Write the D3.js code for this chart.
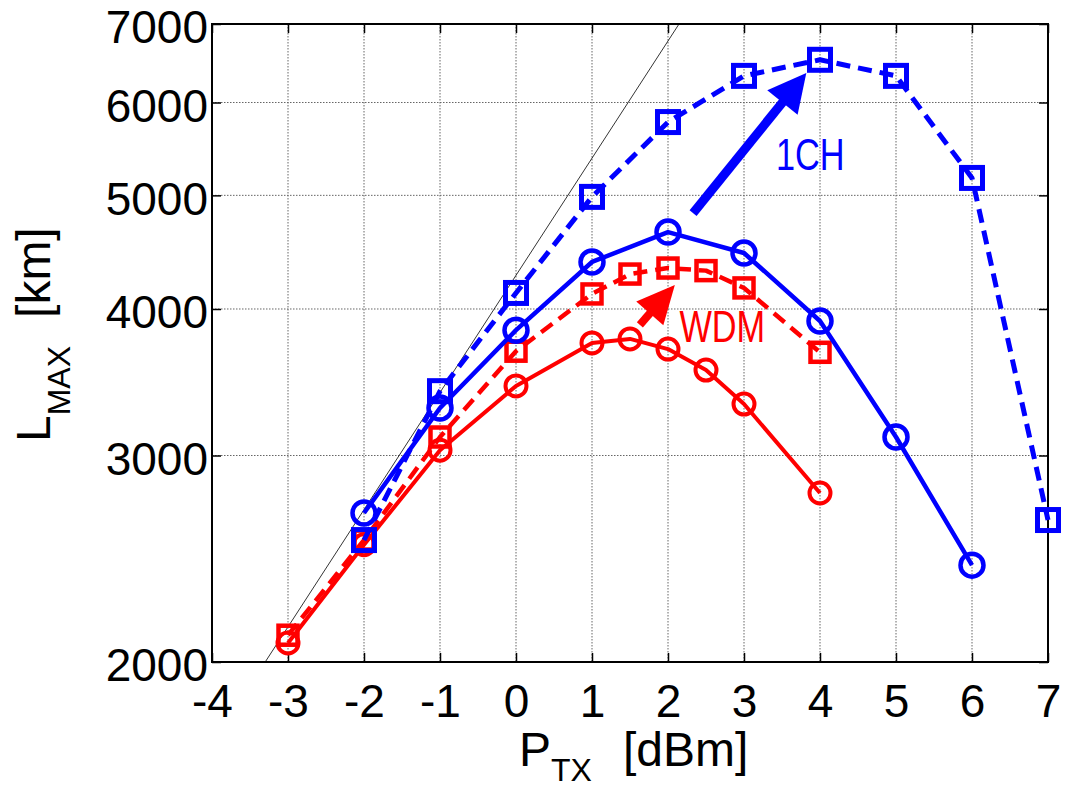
<!DOCTYPE html>
<html>
<head>
<meta charset="utf-8">
<script src="https://cdn.jsdelivr.net/npm/d3@7"></script>
<style>
  body { margin: 0; background: #fff; }
  svg { display: block; }
  text { font-family: "Liberation Sans", Arial, sans-serif; white-space: pre; }
</style>
</head>
<body>
<svg id="chart" width="1081" height="789"></svg>
<script>
// launch power (dBm) and reach (km)
const pBlue = [-2, -1, 0, 1, 2, 3, 4, 5, 6, 7];
const lBlueDash = [2541, 3404, 4128, 4985, 5774, 6322, 6525, 6322, 5174, 2643];
const pBlueSolid = [-2, -1, 0, 1, 2, 3, 4, 5, 6];
const lBlueSolid = [2680, 3293, 3837, 4387, 4652, 4465, 3907, 3111, 2419];
const pRed = [-3, -2, -1, 0, 1, 1.5, 2, 2.5, 3, 4];
const lRedDash = [2108, 2541, 3111, 3682, 4120, 4284, 4335, 4313, 4169, 3674];
const lRedSolid = [2076, 2518, 3031, 3439, 3742, 3772, 3697, 3548, 3319, 2787];
// thin black reference line (end points)
const refP = [-3.3, 2.145];
const refL = [2000, 7000];

const xTicks = [-4, -3, -2, -1, 0, 1, 2, 3, 4, 5, 6, 7];
const yTicks = [2000, 3000, 4000, 5000, 6000, 7000];

const svg = d3.select('#chart');
const mLeft = 212, mRight = 1048, mTop = 24, mBottom = 662;

const x = d3.scaleLinear().domain([-4, 7]).range([mLeft, mRight]);
const y = d3.scaleLog().domain([2000, 7000]).range([mBottom, mTop]);

// grid
const grid = svg.append('g')
  .attr('stroke', '#666').attr('stroke-width', 1).attr('stroke-dasharray', '1.5,1.5');
grid.selectAll('.gx').data(xTicks.slice(1, -1)).join('line')
  .attr('x1', d => x(d)).attr('x2', d => x(d)).attr('y1', mTop).attr('y2', mBottom);
grid.selectAll('.gy').data(yTicks.slice(1, -1)).join('line')
  .attr('y1', d => y(d)).attr('y2', d => y(d)).attr('x1', mLeft).attr('x2', mRight);

// axes: ticks pointing inward on all four sides
const tickLen = 9;
const plain = d => String(d); // keep the ascii hyphen like the original
svg.append('g').attr('transform', `translate(0,${mBottom})`)
  .call(d3.axisBottom(x).tickValues(xTicks).tickSize(-tickLen).tickPadding(22).tickFormat(plain))
  .call(g => g.select('.domain').remove());
svg.append('g').attr('transform', `translate(0,${mTop})`)
  .call(d3.axisTop(x).tickValues(xTicks).tickSize(-tickLen).tickFormat(''))
  .call(g => g.select('.domain').remove());
svg.append('g').attr('class', 'yaxis').attr('transform', `translate(${mLeft},0)`)
  .call(d3.axisLeft(y).tickValues(yTicks).tickSize(-tickLen).tickPadding(4).tickFormat(plain))
  .call(g => g.select('.domain').remove());
svg.append('g').attr('transform', `translate(${mRight},0)`)
  .call(d3.axisRight(y).tickValues(yTicks).tickSize(-tickLen).tickFormat(''))
  .call(g => g.select('.domain').remove());

svg.selectAll('.tick line').attr('stroke', '#000').attr('stroke-width', 1.5);
svg.selectAll('.tick text')
  .attr('font-family', '"Liberation Sans", Arial, sans-serif')
  .attr('font-size', 46).attr('fill', '#000');
svg.selectAll('.yaxis .tick text').attr('dy', '0.41em');

// box
svg.append('rect').attr('x', mLeft).attr('y', mTop)
  .attr('width', mRight - mLeft).attr('height', mBottom - mTop)
  .attr('fill', 'none').attr('stroke', '#000').attr('stroke-width', 2);

const plot = svg.append('g');
plot.append('clipPath').attr('id', 'clip').append('rect')
  .attr('x', mLeft).attr('y', mTop).attr('width', mRight - mLeft).attr('height', mBottom - mTop);

// reference line
plot.append('line').attr('clip-path', 'url(#clip)')
  .attr('x1', x(refP[0])).attr('y1', y(refL[0]))
  .attr('x2', x(refP[1])).attr('y2', y(refL[1]))
  .attr('stroke', '#000').attr('stroke-width', 0.8);

const line = d3.line().x(d => x(d[0])).y(d => y(d[1]));

function drawSeries(ps, ls, color, dashed, marker, size, width) {
  const pts = ps.map((p, i) => [p, ls[i]]);
  plot.append('path').datum(pts)
    .attr('d', line)
    .attr('fill', 'none').attr('stroke', color).attr('stroke-width', width)
    .attr('stroke-linejoin', 'round')
    .attr('stroke-dasharray', dashed ? '14,8' : null);
  if (marker === 'circle') {
    plot.selectAll(null).data(pts).join('circle')
      .attr('cx', d => x(d[0])).attr('cy', d => y(d[1])).attr('r', size)
      .attr('fill', 'none').attr('stroke', color).attr('stroke-width', width);
  } else {
    plot.selectAll(null).data(pts).join('rect')
      .attr('x', d => x(d[0]) - size / 2).attr('y', d => y(d[1]) - size / 2)
      .attr('width', size).attr('height', size)
      .attr('fill', 'none').attr('stroke', color).attr('stroke-width', width);
  }
}

drawSeries(pRed, lRedSolid, '#ff0000', false, 'circle', 10.5, 4);
drawSeries(pRed, lRedDash, '#ff0000', true, 'square', 19, 4.5);
drawSeries(pBlueSolid, lBlueSolid, '#0000ff', false, 'circle', 11.5, 4.5);
drawSeries(pBlue, lBlueDash, '#0000ff', true, 'square', 21, 5);

// arrows (tail and tip in data units)
function arrow(from, to, color, headLen, headHalf, width) {
  const x0 = x(from[0]), y0 = y(from[1]), x1 = x(to[0]), y1 = y(to[1]);
  const len = Math.hypot(x1 - x0, y1 - y0);
  const ux = (x1 - x0) / len, uy = (y1 - y0) / len;
  const bx = x1 - ux * headLen, by = y1 - uy * headLen;
  plot.append('line').attr('x1', x0).attr('y1', y0).attr('x2', bx + ux * 4).attr('y2', by + uy * 4)
    .attr('stroke', color).attr('stroke-width', width);
  plot.append('path')
    .attr('d', `M${x1},${y1}L${bx - uy * headHalf},${by + ux * headHalf}L${bx + uy * headHalf},${by - ux * headHalf}Z`)
    .attr('fill', color);
}
arrow([2.33, 4829], [3.82, 6359], '#0000ff', 38, 19.5, 9);
arrow([1.63, 3878], [2.09, 4194], '#ff0000', 38, 18, 8);

// annotation labels
svg.append('text')
  .attr('transform', `translate(${x(3.42)},${y(5258)}) scale(0.78,1)`)
  .attr('font-family', '"DejaVu Sans", Verdana, sans-serif')
  .attr('font-size', 44).attr('fill', '#0000ff').text('1CH');
svg.append('text')
  .attr('transform', `translate(${x(2.15)},${y(3750)}) scale(0.78,1)`)
  .attr('font-family', '"DejaVu Sans", Verdana, sans-serif')
  .attr('font-size', 44).attr('fill', '#ff0000').text('WDM');

// axis titles
const xt = svg.append('text').attr('x', 519).attr('y', 766).attr('font-size', 48).attr('fill', '#000');
xt.append('tspan').text('P');
xt.append('tspan').attr('font-size', 32).attr('dy', 15).text('TX');
xt.append('tspan').attr('dy', -15).attr('dx', 31).text('[dBm]');

const yt = svg.append('text').attr('transform', 'translate(50,442) rotate(-90)')
  .attr('font-size', 48).attr('fill', '#000');
yt.append('tspan').text('L');
yt.append('tspan').attr('font-size', 32).attr('dy', 20).text('MAX');
yt.append('tspan').attr('dy', -20).attr('dx', 28).text('[km]');
</script>
</body>
</html>
